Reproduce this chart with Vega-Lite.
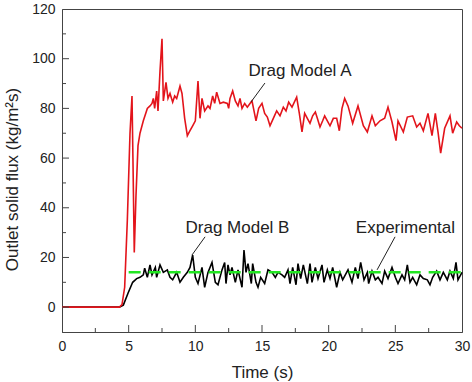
{
  "$schema": "https://vega.github.io/schema/vega-lite/v6.json",
  "width": 400,
  "height": 323,
  "autosize": {"type": "none"},
  "padding": {"left": 62, "top": 9, "right": 10, "bottom": 50},
  "background": "white",
  "config": {
    "font": "Liberation Sans",
    "view": {"stroke": "#444", "strokeWidth": 1},
    "axis": {"grid": false, "ticks": false, "domainColor": "#444", "labelColor": "#222", "titleColor": "#222", "labelFontSize": 14, "titleFontSize": 17, "titleFontWeight": "normal", "labelFlush": false, "labelOverlap": false}
  },
  "datasets": {
    "A": [
      {"t":0,"v":0},{"t":4.3,"v":0},{"t":4.5,"v":1},{"t":4.7,"v":8},{"t":4.9,"v":35},{"t":5.1,"v":70},{"t":5.25,"v":85},{"t":5.32,"v":60},{"t":5.42,"v":22},{"t":5.55,"v":45},{"t":5.7,"v":65},{"t":5.85,"v":70},{"t":6.1,"v":75},{"t":6.4,"v":80},{"t":6.6,"v":81},{"t":6.75,"v":82},{"t":6.85,"v":84},{"t":6.95,"v":80},{"t":7.1,"v":87},{"t":7.2,"v":79},{"t":7.35,"v":95},{"t":7.5,"v":108},{"t":7.6,"v":83},{"t":7.8,"v":90.5},{"t":7.95,"v":84},{"t":8.1,"v":86},{"t":8.3,"v":82.5},{"t":8.45,"v":85},{"t":8.6,"v":84},{"t":8.85,"v":89},{"t":9.0,"v":86},{"t":9.2,"v":76},{"t":9.4,"v":69},{"t":9.6,"v":71},{"t":9.8,"v":73},{"t":10.0,"v":75},{"t":10.2,"v":91},{"t":10.35,"v":76},{"t":10.5,"v":84},{"t":10.7,"v":79},{"t":10.95,"v":81},{"t":11.1,"v":80},{"t":11.3,"v":85},{"t":11.45,"v":82},{"t":11.6,"v":86.5},{"t":11.85,"v":82},{"t":12.1,"v":82.5},{"t":12.4,"v":82},{"t":12.5,"v":80},{"t":12.6,"v":84},{"t":12.8,"v":87},{"t":13.0,"v":83},{"t":13.2,"v":81},{"t":13.35,"v":84},{"t":13.5,"v":80},{"t":13.7,"v":82},{"t":13.9,"v":80.5},{"t":14.1,"v":82},{"t":14.25,"v":83},{"t":14.4,"v":79},{"t":14.55,"v":75},{"t":14.75,"v":80},{"t":15.0,"v":82},{"t":15.2,"v":78},{"t":15.4,"v":76.5},{"t":15.6,"v":73},{"t":15.85,"v":76},{"t":16.1,"v":79},{"t":16.35,"v":77},{"t":16.6,"v":80.5},{"t":16.8,"v":79},{"t":17.0,"v":82.5},{"t":17.25,"v":80.5},{"t":17.6,"v":84.5},{"t":17.8,"v":78},{"t":18.0,"v":70.5},{"t":18.2,"v":78},{"t":18.4,"v":76},{"t":18.6,"v":74},{"t":18.8,"v":77},{"t":19.0,"v":78.5},{"t":19.15,"v":76},{"t":19.35,"v":72.5},{"t":19.55,"v":75},{"t":19.7,"v":77},{"t":19.9,"v":75},{"t":20.1,"v":73},{"t":20.35,"v":76},{"t":20.6,"v":76},{"t":20.8,"v":71},{"t":21.0,"v":80},{"t":21.2,"v":84},{"t":21.45,"v":81},{"t":21.8,"v":74},{"t":22.2,"v":81},{"t":22.6,"v":73},{"t":22.9,"v":70.5},{"t":23.25,"v":77},{"t":23.5,"v":73},{"t":23.85,"v":75},{"t":24.2,"v":76},{"t":24.45,"v":80.5},{"t":24.75,"v":74.5},{"t":25.05,"v":67},{"t":25.2,"v":75},{"t":25.6,"v":70.5},{"t":25.9,"v":76.5},{"t":26.3,"v":77},{"t":26.6,"v":72.5},{"t":26.85,"v":74},{"t":27.1,"v":71},{"t":27.45,"v":78},{"t":27.75,"v":69},{"t":28.0,"v":78},{"t":28.2,"v":70.5},{"t":28.4,"v":62},{"t":28.7,"v":72},{"t":29.1,"v":77},{"t":29.3,"v":70},{"t":29.6,"v":74.5},{"t":29.8,"v":73},{"t":30.0,"v":72}
    ],
    "B": [
      {"t":0,"v":0},{"t":4.3,"v":0},{"t":4.6,"v":0.8},{"t":4.95,"v":5.6},{"t":5.3,"v":10},{"t":5.6,"v":11.5},{"t":5.85,"v":12},{"t":6.1,"v":13},{"t":6.2,"v":15.7},{"t":6.4,"v":12},{"t":6.6,"v":17},{"t":6.75,"v":13},{"t":7.0,"v":16},{"t":7.1,"v":12},{"t":7.35,"v":17},{"t":7.6,"v":14},{"t":7.9,"v":15},{"t":8.1,"v":12},{"t":8.3,"v":11},{"t":8.6,"v":14},{"t":8.85,"v":10},{"t":9.1,"v":12},{"t":9.4,"v":14},{"t":9.6,"v":16},{"t":9.8,"v":21},{"t":10.0,"v":12},{"t":10.2,"v":9.5},{"t":10.5,"v":16},{"t":10.7,"v":8},{"t":10.95,"v":14},{"t":11.25,"v":18},{"t":11.5,"v":10},{"t":11.7,"v":9},{"t":12.0,"v":15},{"t":12.2,"v":18},{"t":12.3,"v":9.5},{"t":12.45,"v":17},{"t":12.6,"v":13},{"t":12.75,"v":16},{"t":13.0,"v":10},{"t":13.2,"v":15},{"t":13.5,"v":8},{"t":13.65,"v":23},{"t":13.8,"v":14},{"t":13.95,"v":17.5},{"t":14.2,"v":9.5},{"t":14.3,"v":17.5},{"t":14.55,"v":10},{"t":14.7,"v":8},{"t":14.9,"v":12},{"t":15.2,"v":9.5},{"t":15.45,"v":15},{"t":15.75,"v":14},{"t":16.0,"v":12},{"t":16.2,"v":14},{"t":16.5,"v":13},{"t":16.7,"v":12},{"t":16.95,"v":15},{"t":17.1,"v":9.5},{"t":17.3,"v":16},{"t":17.55,"v":9},{"t":17.7,"v":17.5},{"t":17.9,"v":11.5},{"t":18.1,"v":17},{"t":18.4,"v":9.5},{"t":18.6,"v":17.5},{"t":18.75,"v":10},{"t":19.0,"v":16},{"t":19.2,"v":11.5},{"t":19.5,"v":17},{"t":19.65,"v":10},{"t":19.9,"v":15},{"t":20.1,"v":11.5},{"t":20.3,"v":16},{"t":20.6,"v":8},{"t":20.85,"v":14},{"t":21.05,"v":11},{"t":21.45,"v":15},{"t":21.75,"v":10},{"t":22.0,"v":16},{"t":22.2,"v":11.5},{"t":22.4,"v":18},{"t":22.65,"v":11},{"t":22.9,"v":14},{"t":23.0,"v":9.5},{"t":23.25,"v":14.5},{"t":23.5,"v":11},{"t":23.7,"v":12},{"t":24.0,"v":9.5},{"t":24.2,"v":14.5},{"t":24.45,"v":11.5},{"t":24.75,"v":16},{"t":25.0,"v":12},{"t":25.2,"v":9.5},{"t":25.5,"v":13},{"t":25.7,"v":11},{"t":25.9,"v":17},{"t":26.1,"v":10},{"t":26.3,"v":12},{"t":26.6,"v":9},{"t":26.85,"v":13},{"t":27.1,"v":11.5},{"t":27.4,"v":11},{"t":27.6,"v":9},{"t":27.8,"v":12},{"t":28.1,"v":14.5},{"t":28.35,"v":11},{"t":28.6,"v":14},{"t":28.9,"v":11},{"t":29.1,"v":14.5},{"t":29.35,"v":11.5},{"t":29.55,"v":18},{"t":29.7,"v":11},{"t":30.0,"v":14}
    ],
    "exp": [{"t":5,"v":14},{"t":30,"v":14}],
    "leaders": [
      {"t":15.22,"v":90.2,"t2":14.18,"v2":82.6},
      {"t":10.73,"v":28.3,"t2":9.75,"v2":21.0},
      {"t":24.98,"v":28.3,"t2":23.63,"v2":15.0}
    ],
    "labels": [
      {"t":17.85,"v":93.0,"text":"Drag Model A"},
      {"t":13.16,"v":29.9,"text":"Drag Model B"},
      {"t":25.76,"v":29.9,"text":"Experimental"}
    ],
    "xmajor": [{"t":5},{"t":10},{"t":15},{"t":20},{"t":25}],
    "xminor": [{"t":2.5},{"t":7.5},{"t":12.5},{"t":17.5},{"t":22.5},{"t":27.5}],
    "ymajor": [{"v":0},{"v":20},{"v":40},{"v":60},{"v":80},{"v":100}],
    "yminor": [{"v":10},{"v":30},{"v":50},{"v":70},{"v":90},{"v":110}]
  },
  "layer": [
    {
      "data": {"name": "B"},
      "mark": {"type": "line", "color": "#000000", "strokeWidth": 1.6},
      "encoding": {
        "x": {"field": "t", "type": "quantitative", "scale": {"domain": [0, 30], "nice": false},
          "axis": {"title": "Time (s)", "values": [0,5,10,15,20,25,30], "labelPadding": 7,
            "titleX": 200, "titleY": 40, "titleBaseline": "middle", "titleAlign": "center"}},
        "y": {"field": "v", "type": "quantitative", "scale": {"domain": [-10, 120], "nice": false, "zero": false},
          "axis": {"title": "Outlet solid flux (kg/m²s)", "values": [0,20,40,60,80,100,120], "labelPadding": 7,
            "titleX": -50, "titleY": 170, "titleBaseline": "middle", "titleAlign": "center"}},
        "order": {"field": "t", "type": "quantitative"}
      }
    },
    {
      "data": {"name": "A"},
      "mark": {"type": "line", "color": "#e3141b", "strokeWidth": 1.6},
      "encoding": {
        "x": {"field": "t", "type": "quantitative"},
        "y": {"field": "v", "type": "quantitative"},
        "order": {"field": "t", "type": "quantitative"}
      }
    },
    {
      "data": {"name": "exp"},
      "mark": {"type": "line", "color": "#22e622", "strokeWidth": 2.5, "strokeDash": [12, 8]},
      "encoding": {
        "x": {"field": "t", "type": "quantitative"},
        "y": {"field": "v", "type": "quantitative"}
      }
    },
    {
      "data": {"name": "leaders"},
      "mark": {"type": "rule", "color": "#222", "strokeWidth": 1},
      "encoding": {
        "x": {"field": "t", "type": "quantitative"},
        "y": {"field": "v", "type": "quantitative"},
        "x2": {"field": "t2"},
        "y2": {"field": "v2"}
      }
    },
    {
      "data": {"name": "labels"},
      "mark": {"type": "text", "fontSize": 17, "color": "#222", "align": "center", "baseline": "alphabetic"},
      "encoding": {
        "x": {"field": "t", "type": "quantitative"},
        "y": {"field": "v", "type": "quantitative"},
        "text": {"field": "text"}
      }
    },
    {
      "data": {"name": "xmajor"},
      "mark": {"type": "tick", "orient": "vertical", "size": 7, "thickness": 1, "color": "#444", "yOffset": -3.5, "opacity": 1},
      "encoding": {
        "x": {"field": "t", "type": "quantitative"},
        "y": {"datum": -10, "type": "quantitative"}
      }
    },
    {
      "data": {"name": "xminor"},
      "mark": {"type": "tick", "orient": "vertical", "size": 4, "thickness": 1, "color": "#444", "yOffset": -2, "opacity": 1},
      "encoding": {
        "x": {"field": "t", "type": "quantitative"},
        "y": {"datum": -10, "type": "quantitative"}
      }
    },
    {
      "data": {"name": "ymajor"},
      "mark": {"type": "tick", "orient": "horizontal", "size": 7, "thickness": 1, "color": "#444", "xOffset": 3.5, "opacity": 1},
      "encoding": {
        "y": {"field": "v", "type": "quantitative"},
        "x": {"datum": 0, "type": "quantitative"}
      }
    },
    {
      "data": {"name": "yminor"},
      "mark": {"type": "tick", "orient": "horizontal", "size": 4, "thickness": 1, "color": "#444", "xOffset": 2, "opacity": 1},
      "encoding": {
        "y": {"field": "v", "type": "quantitative"},
        "x": {"datum": 0, "type": "quantitative"}
      }
    }
  ]
}
